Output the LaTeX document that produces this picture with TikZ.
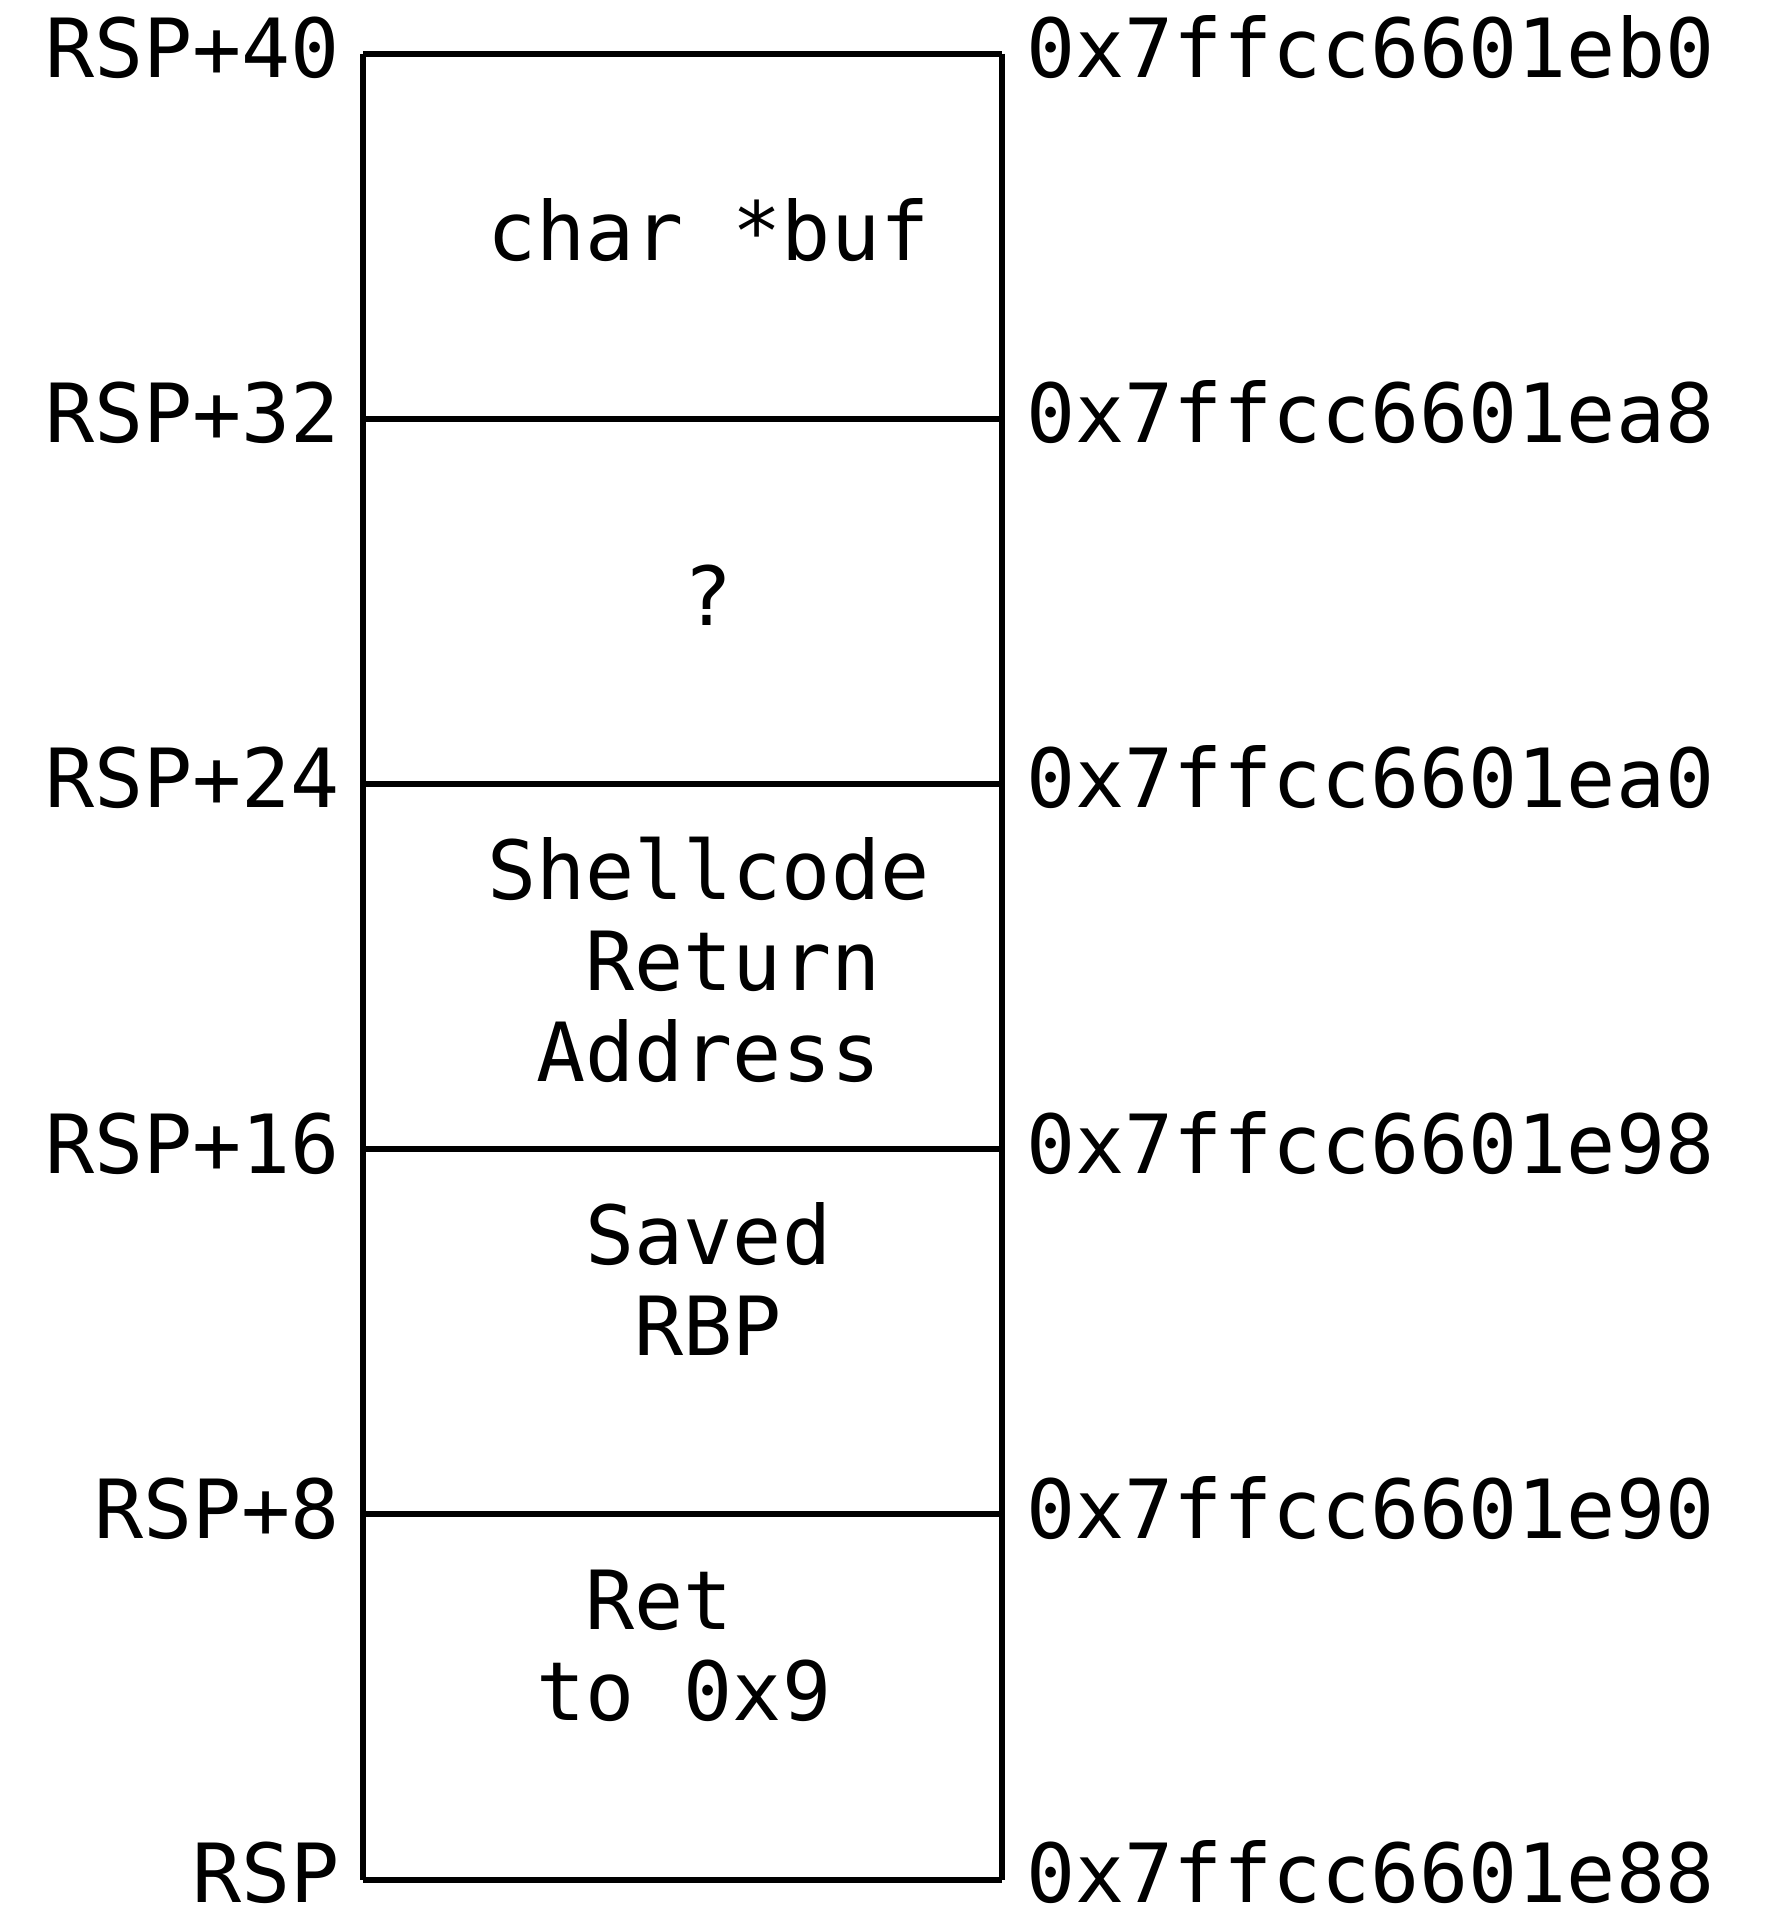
\documentclass[tikz,border=0pt]{standalone}
\usepackage{fontspec}
\setmainfont[RawFeature=+zero]{DejaVu Sans Mono}
\begin{document}
\begin{tikzpicture}[x=0.5pt,y=-0.5pt,
  wall/.style={line width=2.6pt, line join=miter},
  floor/.style={line width=3pt, line cap=butt},
  mono/.style={inner sep=0pt, outer sep=0pt, font=\fontsize{40.8pt}{45.65pt}\selectfont},
  leftlbl/.style={mono, anchor=base east},
  rightlbl/.style={mono, anchor=base west},
  cell/.style={mono, anchor=base west}]
\useasboundingbox (0,0) rectangle (1772,1908);
% row boundary coordinates
\coordinate (L0) at (363,53.5);   \coordinate (R0) at (1002,53.5);
\coordinate (L1) at (363,418.7);  \coordinate (R1) at (1002,418.7);
\coordinate (L2) at (363,783.9);  \coordinate (R2) at (1002,783.9);
\coordinate (L3) at (363,1149.1); \coordinate (R3) at (1002,1149.1);
\coordinate (L4) at (363,1514.3); \coordinate (R4) at (1002,1514.3);
\coordinate (L5) at (363,1879.5); \coordinate (R5) at (1002,1879.5);
% frame
\draw[floor] (L0) -- (R0);
\draw[floor] (L1) -- (R1);
\draw[floor] (L2) -- (R2);
\draw[floor] (L3) -- (R3);
\draw[floor] (L4) -- (R4);
\draw[floor] (L5) -- (R5);
\draw[wall] (L0) -- (L5);
\draw[wall] (R0) -- (R5);
% left offset labels
\node[leftlbl] (o40) at (339.8,77.5)   {RSP+40};
\node[leftlbl] (o32) at (339.8,442.7)  {RSP+32};
\node[leftlbl] (o24) at (339.8,807.9)  {RSP+24};
\node[leftlbl] (o16) at (339.8,1173.1) {RSP+16};
\node[leftlbl] (o8)  at (339.8,1538.3) {RSP+8};
\node[leftlbl] (o0)  at (339.8,1902.5) {RSP};
% right address labels
\node[rightlbl] (a0) at (1026.6,77.5)   {0x7ffcc6601eb0};
\node[rightlbl] (a1) at (1026.6,442.7)  {0x7ffcc6601ea8};
\node[rightlbl] (a2) at (1026.6,807.9)  {0x7ffcc6601ea0};
\node[rightlbl] (a3) at (1026.6,1173.1) {0x7ffcc6601e98};
\node[rightlbl] (a4) at (1026.6,1538.3) {0x7ffcc6601e90};
\node[rightlbl] (a5) at (1026.6,1902.5) {0x7ffcc6601e88};
% slot contents
\node[cell] (buf)   at (487.25,260.1)  {char *buf};
\node[cell] (unk)   at (683.85,625.3)  {?};
\node[cell] (sc1)   at (487.25,899.2)  {Shellcode};
\node[cell] (sc2)   at (585.55,990.5)  {Return};
\node[cell] (sc3)   at (536.4,1081.8)  {Address};
\node[cell] (rbp1)  at (585.55,1264.4) {Saved};
\node[cell] (rbp2)  at (634.7,1355.7)  {RBP};
\node[cell] (ret1)  at (585.55,1629.6) {Ret};
\node[cell] (ret2)  at (536.4,1720.9)  {to 0x9};
\end{tikzpicture}
\end{document}
